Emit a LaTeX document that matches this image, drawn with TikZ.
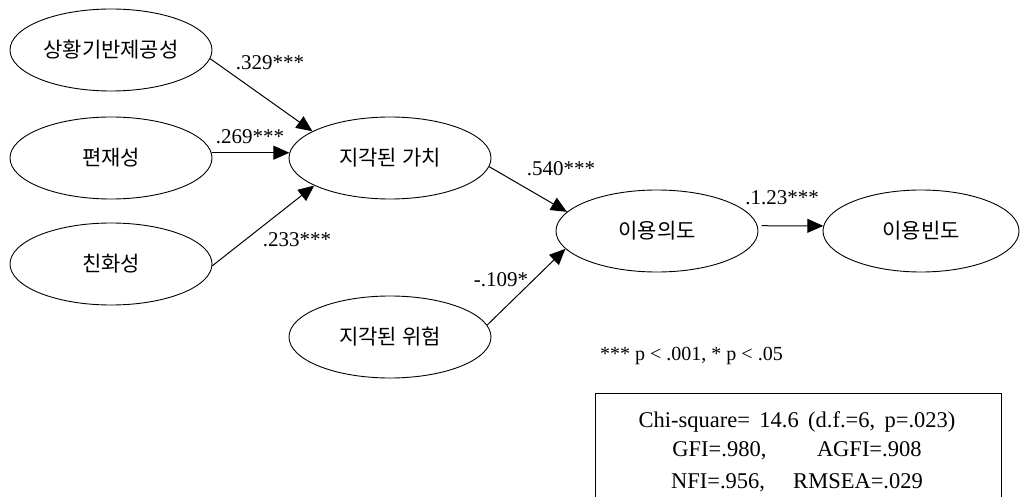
\documentclass[tikz,border=0pt]{standalone}
\usepackage{fontspec}
\setmainfont{Liberation Serif}
\newfontfamily\kr{Noto Sans CJK KR}
\usetikzlibrary{shapes.geometric,arrows.meta}

\tikzset{
  construct/.style={ellipse, draw, line width=0.9pt, minimum width=202pt,
    minimum height=82pt, inner sep=0pt, font=\kr\fontsize{21}{24}\selectfont},
  path arrow/.style={line width=1pt, -{Triangle[length=16pt,width=14pt]}},
  coef/.style={font=\fontsize{21}{25}\selectfont, inner sep=0pt},
  note/.style={font=\fontsize{20}{24}\selectfont, inner sep=0pt},
  fitline/.style={font=\fontsize{22.5}{26}\selectfont, inner sep=0pt},
}

\begin{document}
\begin{tikzpicture}[x=1pt, y=-1pt]
  \useasboundingbox (0,0) rectangle (1020,497);

  % latent constructs
  \node[construct] (e1)  at (111,50)  {상황기반제공성};
  \node[construct] (e2)  at (111,158) {편재성};
  \node[construct] (e3)  at (111,264) {친화성};
  \node[construct] (val) at (390,158) {지각된 가치};
  \node[construct] (rsk) at (390,337) {지각된 위험};
  \node[construct] (int) at (657,231) {이용의도};
  \node[construct, minimum width=196pt] (frq) at (921,231) {이용빈도};

  % structural paths
  \draw[path arrow] (e1.-5)  -- (val.161);
  \draw[path arrow] (e2.3)   -- (val.177);
  \draw[path arrow] (e3.-1)  -- (val.200);
  \draw[path arrow] (val.-5) -- (int.168);
  \draw[path arrow] (rsk.7)  -- (int.191);
  \draw[path arrow, shorten <=4pt] (int.3) -- (frq.177);

  % path coefficients
  \node[coef] (c1) at (270,63)  {.329***};
  \node[coef] (c2) at (250,137) {.269***};
  \node[coef] (c3) at (297,240) {.233***};
  \node[coef] (c4) at (561,169) {.540***};
  \node[coef] (c5) at (501,280) {-.109*};
  \node[coef] (c6) at (782,198) {.1.23***};

  % significance note
  \node[note, anchor=west] (sig) at (600,356) {*** p < .001, * p < .05};

  % fit indices
  \draw[line width=0.9pt] (595,510) -- (595,393) -- (1001,393) -- (1001,510);
  \node[fitline] (fit1) at (797,422) {Chi-square= \,14.6 \,(d.f.=6, \,p=.023)};
  \node[fitline] (fit2) at (797,451) {GFI=.980, \qquad AGFI=.908};
  \node[fitline] (fit3) at (797,483) {NFI=.956, \quad RMSEA=.029};
\end{tikzpicture}
\end{document}
